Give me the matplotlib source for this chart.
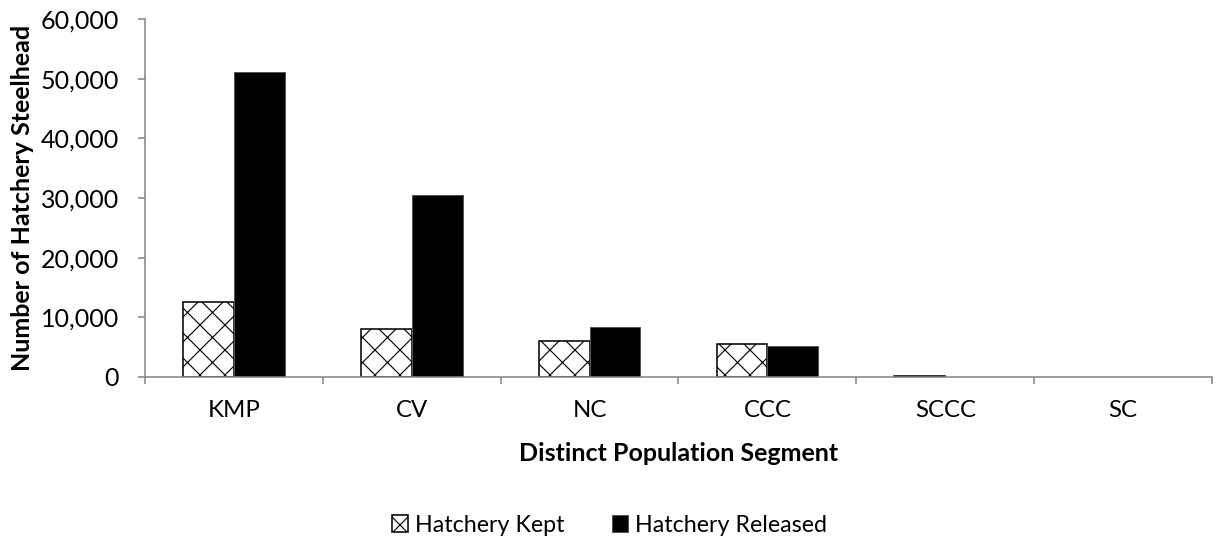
import matplotlib.pyplot as plt
import numpy as np
from matplotlib.ticker import FuncFormatter

# values
segments = ["KMP", "CV", "NC", "CCC", "SCCC", "SC"]
hatchery_kept = [12500, 8000, 6050, 5500, 200, 0]
hatchery_released = [51200, 30500, 8450, 5200, 80, 0]
y_ticks = [0, 10000, 20000, 30000, 40000, 50000, 60000]

plt.rcParams['font.family'] = ['Lato', 'DejaVu Sans']
plt.rcParams['hatch.linewidth'] = 0.55
plt.rcParams['hatch.color'] = '#303030'

DPI = 150
fig = plt.figure(figsize=(1219 / DPI, 539 / DPI), dpi=DPI)
ax = fig.add_axes([145 / 1219, 1 - 377 / 539, (1212 - 145) / 1219, (377 - 19) / 539])

x = np.arange(len(segments))
w = 1 / 3.5
# no outline on empty bars so nothing is drawn for SC
kept_lw = [0.75 if v > 0 else 0 for v in hatchery_kept]
rel_lw = [0.5 if v > 0 else 0 for v in hatchery_released]
ax.bar(x - w / 2, hatchery_kept, w, facecolor='white', edgecolor='black',
       linewidth=kept_lw, hatch='xx', label='Hatchery Kept')
ax.bar(x + w / 2, hatchery_released, w, facecolor='black', edgecolor='#555555',
       linewidth=rel_lw, label='Hatchery Released')

ax.set_xlim(-0.5, len(segments) - 0.5)
ax.set_ylim(0, 60000)
ax.set_yticks(y_ticks)
ax.yaxis.set_major_formatter(FuncFormatter(lambda v, p: f"{int(v):,}"))

# category boundary ticks, labels centred between them
ax.set_xticks(np.arange(-0.5, len(segments)))
ax.set_xticklabels([])
ax.set_xticks(x, minor=True)
ax.set_xticklabels(segments, minor=True)

gray = '#868686'
for s in ['top', 'right']:
    ax.spines[s].set_visible(False)
for s in ['left', 'bottom']:
    ax.spines[s].set_color(gray)
    ax.spines[s].set_linewidth(0.75)

ax.tick_params(axis='y', which='major', length=3.5, width=0.75, color=gray,
               labelsize=12, pad=9)
ax.tick_params(axis='x', which='major', length=3.5, width=0.75, color=gray)
ax.tick_params(axis='x', which='minor', length=0, labelsize=11.5, pad=11)

ax.set_xlabel("Distinct Population Segment", fontsize=12, fontweight='bold', labelpad=10)
ax.set_ylabel("Number of Hatchery Steelhead", fontsize=12, fontweight='bold', labelpad=3)

leg = fig.legend(loc='center', bbox_to_anchor=(0.5, 1 - 525 / 539),
                 ncol=2, frameon=False, fontsize=11.2, handlelength=0.7,
                 handleheight=0.7, handletextpad=0.3, columnspacing=2.0)

fig.savefig("out.png", dpi=DPI)
